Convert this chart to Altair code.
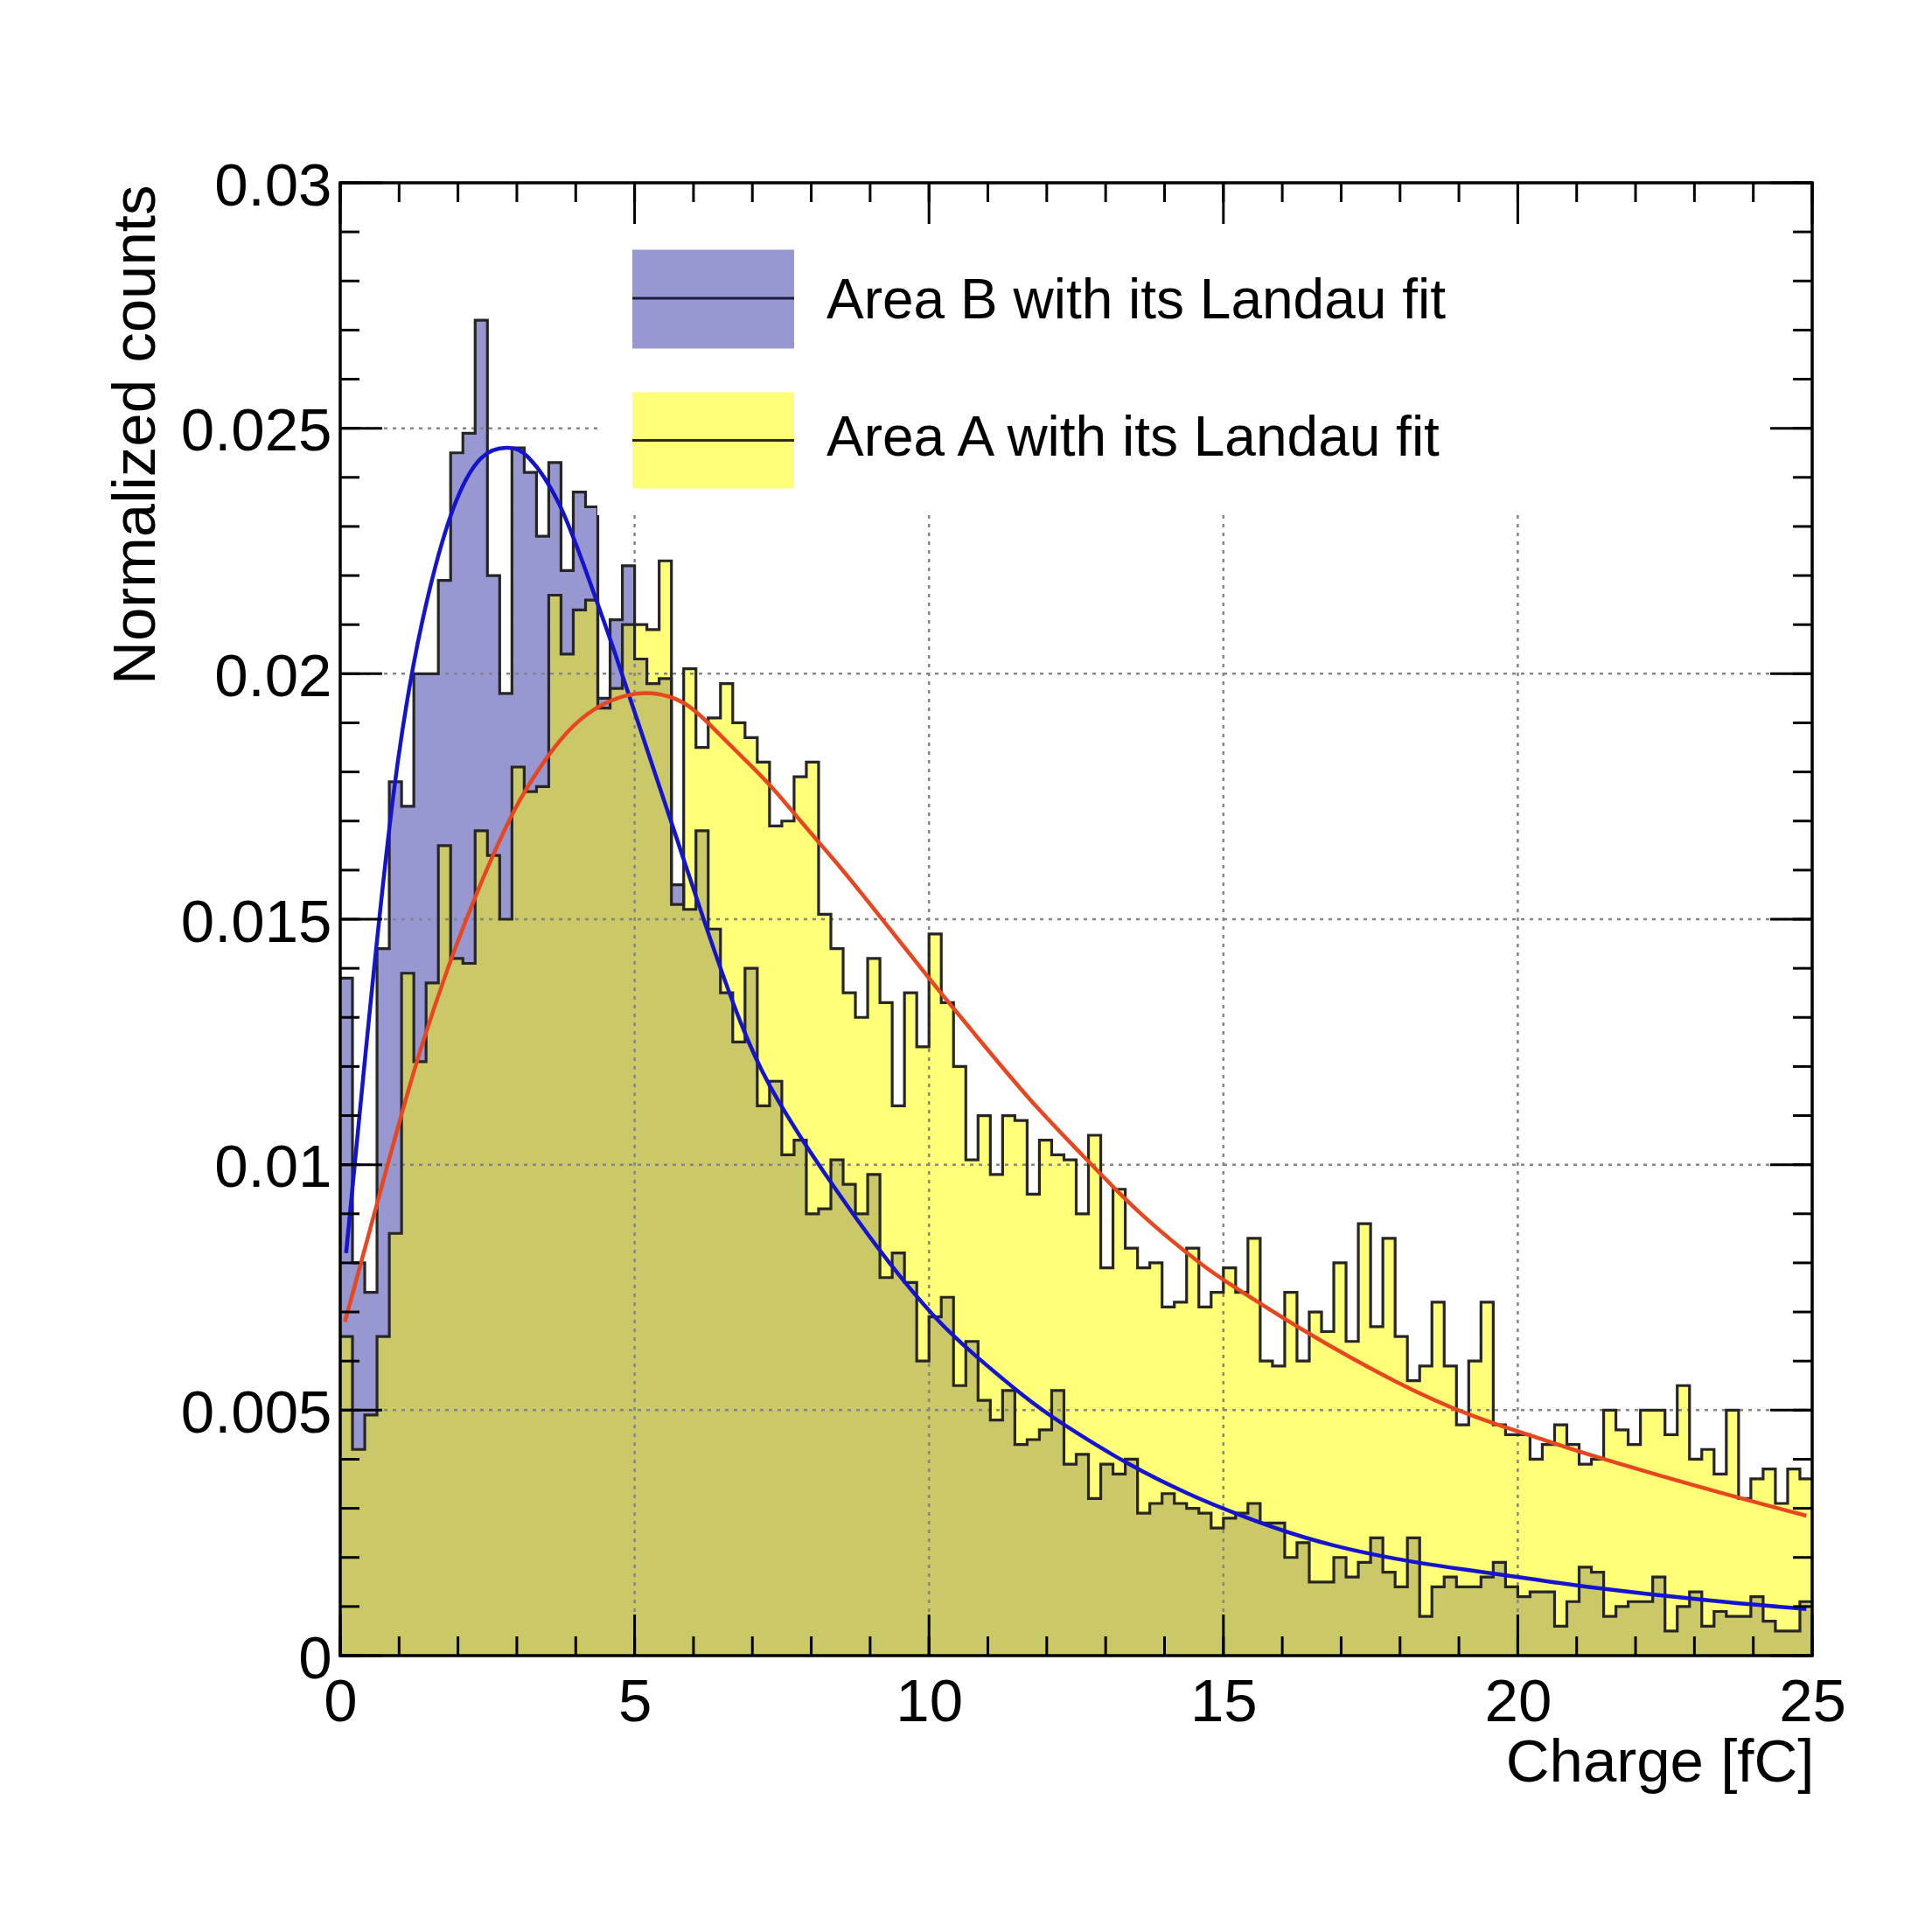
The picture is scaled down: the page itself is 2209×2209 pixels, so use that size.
import altair as alt
import pandas as pd

# ---------------- data ----------------
X_MIN, X_MAX = 0.0, 25.0
Y_MIN, Y_MAX = 0.0, 0.03

# Area A histogram (120 bins, 0-25 fC)
AREA_A = [
    0.0065, 0.0042, 0.0049, 0.0065, 0.0086, 0.0139, 0.0121, 0.0137, 0.0165, 0.0142,
    0.0141, 0.0168, 0.0163, 0.0150, 0.0181, 0.0176, 0.0177, 0.0216, 0.0204, 0.0213,
    0.0215, 0.0193, 0.0197, 0.0210, 0.0210, 0.0209, 0.0223, 0.0153, 0.0201, 0.0185,
    0.0191, 0.0198, 0.0190, 0.0187, 0.0182, 0.0169, 0.0170, 0.0179, 0.0182, 0.0151,
    0.0144, 0.0135, 0.0130, 0.0142, 0.0133, 0.0112, 0.0135, 0.0124, 0.0147, 0.0133,
    0.0120, 0.0101, 0.0110, 0.0098, 0.0110, 0.0109, 0.0094, 0.0105, 0.0102, 0.0101,
    0.0090, 0.0106, 0.0079, 0.0095, 0.0083, 0.0079, 0.0080, 0.0071, 0.0072, 0.0083,
    0.0071, 0.0074, 0.0079, 0.0074, 0.0085, 0.0060, 0.0059, 0.0074, 0.0060, 0.0070,
    0.0066, 0.0080, 0.0064, 0.0088, 0.0067, 0.0085, 0.0065, 0.0056, 0.0059, 0.0072,
    0.0059, 0.0047, 0.0060, 0.0072, 0.0047, 0.0045, 0.0045, 0.0040, 0.0043, 0.0047,
    0.0043, 0.0039, 0.0040, 0.0050, 0.0046, 0.0043, 0.0050, 0.0050, 0.0045, 0.0055,
    0.0040, 0.0042, 0.0037, 0.0050, 0.0032, 0.0036, 0.0038, 0.0031, 0.0038, 0.0036,
]

# Area B histogram (120 bins, 0-25 fC)
AREA_B = [
    0.0138, 0.0080, 0.0074, 0.0144, 0.0178, 0.0173, 0.0200, 0.0200, 0.0219, 0.0245,
    0.0249, 0.0272, 0.0220, 0.0196, 0.0246, 0.0241, 0.0228, 0.0243, 0.0221, 0.0237,
    0.0234, 0.0195, 0.0211, 0.0222, 0.0203, 0.0198, 0.0199, 0.0157, 0.0152, 0.0168,
    0.0148, 0.0135, 0.0125, 0.0140, 0.0112, 0.0117, 0.0102, 0.0105, 0.0090, 0.0091,
    0.0101, 0.0096, 0.0090, 0.0098, 0.0077, 0.0082, 0.0076, 0.0060, 0.0069, 0.0073,
    0.0055, 0.0064, 0.0052, 0.0048, 0.0054, 0.0043, 0.0044, 0.0046, 0.0054, 0.0039,
    0.0041, 0.0032, 0.0039, 0.0037, 0.0040, 0.0029, 0.0031, 0.0033, 0.0031, 0.0030,
    0.0029, 0.0026, 0.0028, 0.0029, 0.0031, 0.0027, 0.0027, 0.0020, 0.0023, 0.0015,
    0.0015, 0.0020, 0.0016, 0.0019, 0.0024, 0.0017, 0.0014, 0.0024, 0.0008, 0.0014,
    0.0016, 0.0014, 0.0014, 0.0016, 0.0019, 0.0014, 0.0012, 0.0013, 0.0013, 0.0006,
    0.0011, 0.0018, 0.0017, 0.0008, 0.0010, 0.0011, 0.0011, 0.0016, 0.0005, 0.0010,
    0.0013, 0.0006, 0.0009, 0.0008, 0.0008, 0.0012, 0.0007, 0.0005, 0.0005, 0.0011,
]

# Landau fit curves
FIT_B_X = [0.1, 0.4, 0.9, 1.4, 1.9, 2.4, 2.85, 3.2, 3.7, 4.2, 4.7, 5.2, 5.7, 6.2,
           6.8, 7.3, 7.8, 8.3, 9.2, 10.1, 10.8, 11.6, 12.3, 13.4, 14.4, 15.2, 16.4,
           17.9, 19.3, 20.3, 21.2, 23.2, 24.9]
FIT_B_Y = [0.0082, 0.0119, 0.0175, 0.0211, 0.0233, 0.0244, 0.0246, 0.0244, 0.0235,
           0.0220, 0.0203, 0.0185, 0.0167, 0.0149, 0.0129, 0.0116, 0.0106, 0.0097,
           0.0082, 0.0069, 0.0061, 0.0053, 0.0047, 0.0039, 0.0033, 0.0029, 0.0024,
           0.00198, 0.00172, 0.00155, 0.0014, 0.00113, 0.00095]

FIT_A_X = [0.08, 0.42, 0.92, 1.38, 1.92, 2.45, 2.95, 3.4, 3.85, 4.35, 4.84, 5.3,
           5.84, 6.33, 6.83, 7.32, 7.82, 8.32, 8.87, 10.0, 10.75, 11.7, 12.6, 13.6,
           14.6, 15.2, 16.4, 17.9, 19.2, 20.3, 21.2, 23.2, 24.9]
FIT_A_Y = [0.0068, 0.0083, 0.0105, 0.0124, 0.0143, 0.0159, 0.0172, 0.0181, 0.0188,
           0.0193, 0.01955, 0.0196, 0.0194, 0.0189, 0.0183, 0.0177, 0.0170, 0.0163,
           0.0155, 0.0138, 0.0127, 0.01135, 0.0102, 0.0090, 0.0080, 0.0075, 0.0066,
           0.0056, 0.0049, 0.00445, 0.0041, 0.0034, 0.00285]

X_LABEL_TICKS = [0, 5, 10, 15, 20, 25]
X_MINOR_TICKS = list(range(0, 26))
Y_LABEL_TICKS = [0, 0.005, 0.01, 0.015, 0.02, 0.025, 0.03]
Y_MINOR_TICKS = [i / 1000 for i in range(0, 31)]
X_GRID = [5, 10, 15, 20]
Y_GRID = [0.005, 0.01, 0.015, 0.02, 0.025]

LEGEND_LABELS = ["Area B with its Landau fit", "Area A with its Landau fit"]
X_TITLE = "Charge [fC]"
Y_TITLE = "Normalized counts"

# ---------------- styling ----------------
W, H = 1683, 1684
FONT = "Liberation Sans"
B_FILL = "#9797D2"
A_FILL = "#FFFF78"
OV_FILL = "#CBC868"
OUTLINE = "#262626"
BLUE = "#1414CC"
RED = "#E8461E"
GRID = "#858585"

bin_width = (X_MAX - X_MIN) / len(AREA_A)
hist = pd.DataFrame({
    "x": [X_MIN + i * bin_width for i in range(len(AREA_A))] + [X_MAX],
    "a": AREA_A + [AREA_A[-1]],
    "b": AREA_B + [AREA_B[-1]],
})
fit_a = pd.DataFrame({"fx": FIT_A_X, "fy": FIT_A_Y})
fit_b = pd.DataFrame({"fx": FIT_B_X, "fy": FIT_B_Y})

xs = alt.Scale(domain=[X_MIN, X_MAX], nice=False, zero=False)
ys = alt.Scale(domain=[Y_MIN, Y_MAX], nice=False, zero=False)

x_axis = alt.Axis(
    values=X_LABEL_TICKS, format="~g", title=X_TITLE,
    grid=False, ticks=False, tickSize=0, domain=False,
    labelFontSize=69, labelFont=FONT, labelColor="black", labelPadding=19,
    labelFlush=False, labelBound=False, labelOverlap=False,
    titleFontSize=69, titleFont=FONT, titleFontWeight="normal", titleColor="black",
    titleX=W + 2, titleY=143, titleAlign="right", titleBaseline="alphabetic",
    zindex=1,
)
y_axis = alt.Axis(
    values=Y_LABEL_TICKS, format="~g", title=Y_TITLE,
    grid=False, ticks=False, tickSize=0, domain=False,
    labelFontSize=69, labelFont=FONT, labelColor="black", labelPadding=10,
    labelOffset=4, labelFlush=False, labelBound=False, labelOverlap=False,
    titleFontSize=69, titleFont=FONT, titleFontWeight="normal", titleColor="black",
    titleAngle=270, titleX=-213, titleY=2, titleAlign="right", titleBaseline="alphabetic",
    zindex=1,
)


def X(field):
    return alt.X(field, type="quantitative", scale=xs, axis=x_axis)


def Y(field):
    return alt.Y(field, type="quantitative", scale=ys, axis=y_axis)


base = alt.Chart(hist)

b_area = base.mark_area(interpolate="step-after", color=B_FILL).encode(x=X("x"), y=Y("b"))
a_area = base.mark_area(interpolate="step-after", color=A_FILL).encode(x=X("x"), y=Y("a"))
ov_area = base.transform_calculate(m="min(datum.a, datum.b)").mark_area(
    interpolate="step-after", color=OV_FILL).encode(x=X("x"), y=Y("m"))
b_line = base.mark_line(interpolate="step-after", color=OUTLINE, strokeWidth=3.2).encode(
    x=X("x"), y=Y("b"))
a_line = base.mark_line(interpolate="step-after", color=OUTLINE, strokeWidth=3.2).encode(
    x=X("x"), y=Y("a"))

fit_b_line = alt.Chart(fit_b).mark_line(interpolate="natural", color=BLUE, strokeWidth=4.5).encode(
    x=X("fx"), y=Y("fy"))
fit_a_line = alt.Chart(fit_a).mark_line(interpolate="natural", color=RED, strokeWidth=4.5).encode(
    x=X("fx"), y=Y("fy"))

# dotted grid (drawn through the fills, hidden by the legend box)
x_grid = alt.Chart(pd.DataFrame({"v": X_GRID})).mark_rule(
    color=GRID, strokeWidth=2.5, strokeDash=[4, 6]).encode(
    x=X("v"), y=alt.value(0), y2=alt.value(H))
y_grid = alt.Chart(pd.DataFrame({"v": Y_GRID})).mark_rule(
    color=GRID, strokeWidth=2.5, strokeDash=[4, 6]).encode(
    y=Y("v"), x=alt.value(0), x2=alt.value(W))


# inward ticks on all four sides
def xticks(vals, length):
    d = alt.Chart(pd.DataFrame({"v": vals})).mark_rule(color="black", strokeWidth=3)
    bottom = d.encode(x=X("v"), y=alt.value(H), y2=alt.value(H - length))
    top = d.encode(x=X("v"), y=alt.value(0), y2=alt.value(length))
    return [bottom, top]


def yticks(vals, length):
    d = alt.Chart(pd.DataFrame({"v": vals})).mark_rule(color="black", strokeWidth=3)
    left = d.encode(y=Y("v"), x=alt.value(0), x2=alt.value(length))
    right = d.encode(y=Y("v"), x=alt.value(W), x2=alt.value(W - length))
    return [left, right]


tick_layers = xticks(X_MINOR_TICKS, 22) + xticks(X_LABEL_TICKS, 47) + \
    yticks(Y_MINOR_TICKS, 22) + yticks(Y_LABEL_TICKS, 48)

one = pd.DataFrame({"k": [0]})
frame = alt.Chart(one).mark_rect(fillOpacity=0, stroke="black", strokeWidth=3.5).encode(
    x=alt.value(0), x2=alt.value(W), y=alt.value(0), y2=alt.value(H))

# legend (white box that hides the grid, as in the original)
leg_box = alt.Chart(one).mark_rect(color="white").encode(
    x=alt.value(294), x2=alt.value(W), y=alt.value(0), y2=alt.value(380))
leg_b = pd.DataFrame({"label": [LEGEND_LABELS[0]]})
leg_a = pd.DataFrame({"label": [LEGEND_LABELS[1]]})
LX0, LX1, TX = 334, 519, 556
leg_layers = [
    alt.Chart(leg_b).mark_rect(color=B_FILL).encode(
        x=alt.value(LX0), x2=alt.value(LX1), y=alt.value(76.5), y2=alt.value(189.5)),
    alt.Chart(leg_b).mark_rule(color="#1c1c3c", strokeWidth=3.2).encode(
        x=alt.value(LX0), x2=alt.value(LX1), y=alt.value(132)),
    alt.Chart(leg_b).mark_text(align="left", baseline="alphabetic", fontSize=64,
                               font=FONT, color="black").encode(
        x=alt.value(TX), y=alt.value(154.5), text="label:N"),
    alt.Chart(leg_a).mark_rect(color=A_FILL).encode(
        x=alt.value(LX0), x2=alt.value(LX1), y=alt.value(239.5), y2=alt.value(349.5)),
    alt.Chart(leg_a).mark_rule(color="#2b2b1c", strokeWidth=3.2).encode(
        x=alt.value(LX0), x2=alt.value(LX1), y=alt.value(294.5)),
    alt.Chart(leg_a).mark_text(align="left", baseline="alphabetic", fontSize=64,
                               font=FONT, color="black").encode(
        x=alt.value(TX), y=alt.value(311.5), text="label:N"),
]

chart = alt.layer(
    b_area, a_area, ov_area, x_grid, y_grid, b_line, a_line, fit_b_line, fit_a_line,
    leg_box, *tick_layers, frame, *leg_layers,
).properties(
    width=W, height=H,
    autosize=alt.AutoSizeParams(type="none"),
    padding={"left": 381, "top": 201, "right": 100, "bottom": 300},
    background="white",
).configure_view(strokeWidth=0)

chart.save("out.html", embed_options={"renderer": "svg", "actions": False})
